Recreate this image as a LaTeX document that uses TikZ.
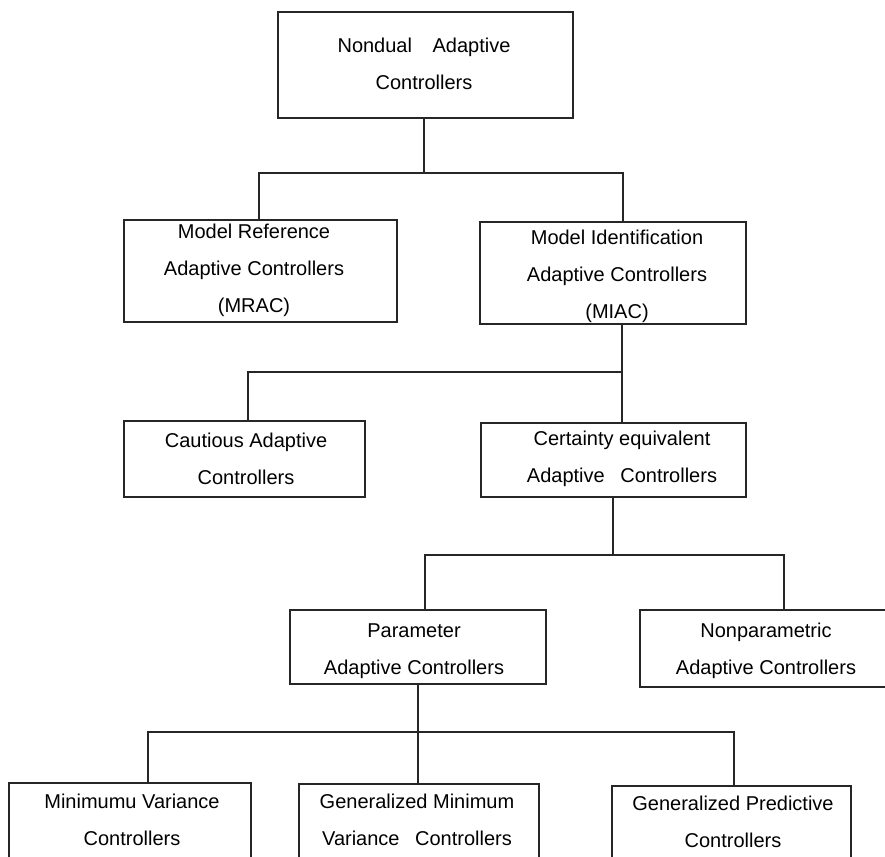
\documentclass[tikz,border=0pt]{standalone}
\usepackage{fontspec}
\setmainfont{Liberation Sans}
\begin{document}
\begin{tikzpicture}[x=1pt,y=-1pt,
  line width=1.3pt,
  box/.style={draw=black!85, rectangle, inner sep=0pt},
  label text/.style={inner sep=0pt, align=center,
    font=\fontsize{20}{37}\selectfont},
  link/.style={draw=black!85}]
\useasboundingbox (0,0) rectangle (885,856);
\clip (0,0) rectangle (885,856);
% a box from its two corners: name, x1, y1, x2, y2
\newcommand{\cornerbox}[5]{%
  \node[box, minimum width={#4-#2}, minimum height={#5-#3}]
    (#1) at ({(#2+#4)/2},{(#3+#5)/2}) {};}
\cornerbox{nondual}{278}{12}{573}{118}
\cornerbox{mrac}{124}{220}{397}{322}
\cornerbox{miac}{480}{222}{746}{324}
\cornerbox{cautious}{124}{421}{365}{497}
\cornerbox{certainty}{481}{423}{746}{497}
\cornerbox{param}{290}{610}{546}{684}
\cornerbox{nonparam}{640}{610}{900}{687}
\cornerbox{minvar}{9}{783}{251}{880}
\cornerbox{genminvar}{299}{784}{539}{880}
\cornerbox{genpred}{612}{786}{851}{880}
% box texts
\node[label text] (nondual-t) at (424,63.5)
  {Nondual\hspace*{15pt} Adaptive\\Controllers};
\node[label text] (mrac-t) at (254,270)
  {Model Reference\\Adaptive Controllers\\(MRAC)};
\node[label text] (miac-t) at (617,276)
  {Model Identification\\Adaptive Controllers\\(MIAC)};
\node[label text] (cautious-t) at (246,458.5)
  {Cautious Adaptive\\Controllers};
\node[label text] (certainty-t) at (622,459)
  {Certainty equivalent\\Adaptive\hspace*{10pt} Controllers};
\node[label text] (param-t) at (414,651)
  {Parameter\\Adaptive Controllers};
\node[label text] (nonparam-t) at (766,651)
  {Nonparametric\\Adaptive Controllers};
\node[label text] (minvar-t) at (132,819.5)
  {Minimumu Variance\\Controllers};
\node[label text] (genminvar-t) at (417,819.5)
  {Generalized Minimum\\Variance\hspace*{10pt} Controllers};
\node[label text] (genpred-t) at (733,822)
  {Generalized Predictive\\Controllers};
% junction points of the tree
\coordinate (j1) at (424,173);
\coordinate (j2) at (622,372);
\coordinate (j3) at (613,555);
\coordinate (j4) at (418,732);
% connectors
\draw[link] (nondual.south -| j1) -- (j1);
\draw[link] (mrac.north -| 259,0) |- (j1) -| (miac.north -| 623,0);
\draw[link] (miac.south -| j2) -- (certainty.north -| j2);
\draw[link] (cautious.north -| 248,0) |- (j2);
\draw[link] (certainty.south -| j3) -- (j3);
\draw[link] (param.north -| 425,0) |- (j3) -| (nonparam.north -| 784,0);
\draw[link] (param.south -| j4) -- (genminvar.north -| j4);
\draw[link] (minvar.north -| 148,0) |- (j4) -| (genpred.north -| 734,0);
\end{tikzpicture}
\end{document}
